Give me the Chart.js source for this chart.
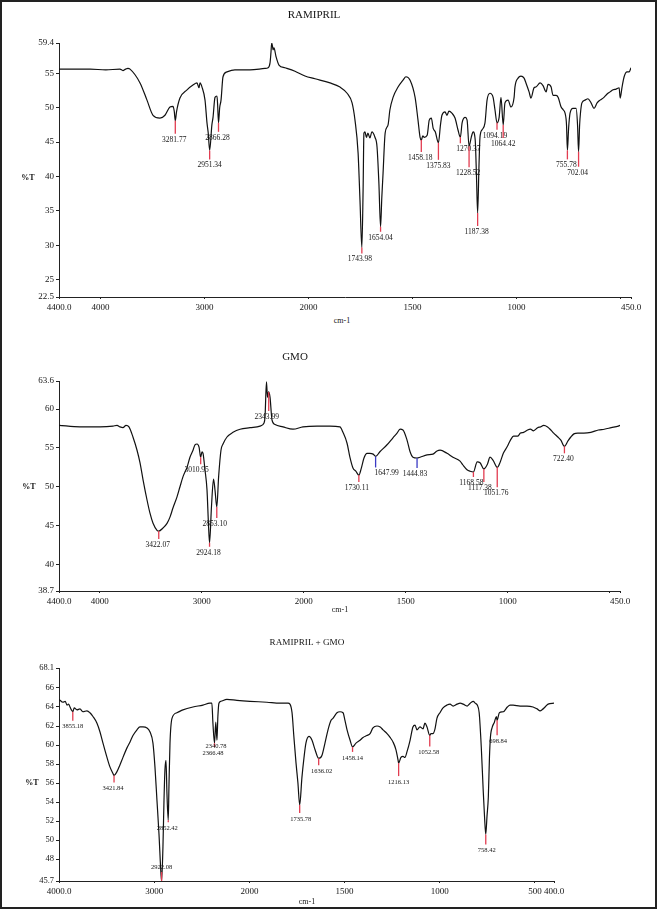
<!DOCTYPE html>
<html>
<head>
<meta charset="utf-8">
<title>FTIR - Ramipril / GMO</title>
<script src="https://cdn.jsdelivr.net/npm/chart.js@4.4.1/dist/chart.umd.min.js"></script>
<style>
  html, body { margin: 0; padding: 0; background: #fff; }
  #page { position: relative; width: 659px; height: 909px; overflow: hidden;
          font-family: "Liberation Serif", "DejaVu Serif", serif; color: #151515; }
  #cadre { position: absolute; left: 0; top: 0; width: 653px; height: 905px; border: 2px solid #222; }
  canvas { position: absolute; left: 0; }
  .txt { position: absolute; white-space: nowrap; line-height: 1; transform: translate(-50%, -50%); }
  .pt { font-weight: bold; font-size: 8px; }
</style>
</head>
<body>
<div id="page">
  <div id="cadre"></div>
  <canvas id="spectre-ramipril" width="659" height="315" style="top:0px"></canvas>
  <canvas id="spectre-gmo" width="659" height="280" style="top:330px"></canvas>
  <canvas id="spectre-melange" width="659" height="289" style="top:620px"></canvas>

  <div class="txt" style="left:314px; top:14px; font-size:11px">RAMIPRIL</div>
  <div class="txt pt" style="left:28px; top:178px">%T</div>
  <div class="txt" style="left:342px; top:321px; font-size:8px">cm-1</div>

  <div class="txt" style="left:295px; top:356px; font-size:11px">GMO</div>
  <div class="txt pt" style="left:29px; top:487px">%T</div>
  <div class="txt" style="left:340px; top:610px; font-size:8px">cm-1</div>

  <div class="txt" style="left:307px; top:643px; font-size:9.2px">RAMIPRIL + GMO</div>
  <div class="txt pt" style="left:32px; top:783px">%T</div>
  <div class="txt" style="left:307px; top:902px; font-size:8px">cm-1</div>
</div>

<script>
// Spectre RAMIPRIL (nombre d'onde cm-1 / %T)
const ramiprilWn = [4400, 4250, 4100, 3950, 3814, 3785, 3760, 3737, 3717, 3621, 3554, 3496, 3429, 3381, 3333, 3304, 3292, 3281.77, 3270, 3237,
  3169, 3112, 3073, 3054, 3044, 3025, 2996, 2977, 2965, 2951.34, 2930, 2919, 2900, 2881, 2875, 2866.28, 2855, 2842, 2823, 2785,
  2708, 2564, 2420, 2390, 2371, 2362, 2355, 2347, 2342, 2333, 2313, 2285, 2227, 2131, 2035, 1969, 1897, 1849, 1815, 1791,
  1777, 1762, 1753, 1743.98, 1738, 1734, 1729, 1722, 1715, 1705, 1696, 1681, 1671, 1662, 1654.04, 1648, 1642, 1632, 1618, 1609,
  1594, 1570, 1546, 1532, 1512, 1488, 1474, 1464, 1458.18, 1451, 1444, 1430, 1420, 1410, 1401, 1391, 1375.83, 1366, 1359, 1344,
  1335, 1325, 1311, 1296, 1282, 1270.37, 1262, 1247, 1238, 1228.52, 1218, 1209, 1199, 1193, 1187.38, 1181, 1176, 1166, 1152, 1142,
  1128, 1113, 1104, 1094.19, 1084, 1075, 1064.42, 1056, 1041, 1027, 1012, 1008, 993, 979, 964, 955, 940, 931, 916, 907,
  887, 873, 858, 849, 834, 825, 810, 800, 786, 776, 767, 760, 755.78, 750, 743, 729, 714, 707, 702.04, 697,
  693, 686, 671, 657, 642, 628, 613, 599, 580, 565, 551, 536, 522, 507, 502, 493, 483, 469, 459, 450];
const ramiprilT = [55.6, 55.6, 55.6, 55.5, 55.6, 55.4, 55.6, 55.7, 55.6, 53.6, 51.1, 48.9, 48.5, 48.9, 50.1, 50.2, 49.5, 48.1, 49.4, 51.4,
  52.6, 53.3, 53.6, 52.9, 53.6, 53.0, 51.1, 47.8, 46.3, 43.8, 47.5, 48.6, 51.5, 51.7, 50.5, 47.8, 50.0, 51.1, 54.5, 55.2,
  55.5, 55.5, 55.7, 55.8, 56.5, 58.0, 59.4, 58.9, 58.4, 58.7, 57.4, 56.2, 55.8, 55.3, 54.6, 54.2, 53.6, 53.0, 52.1, 50.7,
  48.2, 43.4, 36.6, 29.7, 38.0, 46.3, 46.5, 45.7, 46.3, 45.6, 46.5, 45.7, 44.3, 39.0, 32.7, 37.0, 40.5, 46.3, 47.5, 49.7,
  51.5, 53.0, 54.0, 54.5, 54.0, 51.5, 48.2, 45.7, 45.3, 45.9, 45.7, 46.0, 48.2, 48.5, 47.0, 46.5, 44.9, 47.5, 48.9, 49.4,
  48.9, 49.5, 49.2, 48.5, 46.8, 45.7, 47.8, 48.6, 48.2, 44.4, 45.7, 46.5, 45.3, 40.2, 34.7, 41.4, 45.7, 46.8, 47.8, 51.1,
  52.1, 51.5, 49.7, 47.8, 48.6, 51.5, 47.5, 50.7, 51.1, 50.1, 51.5, 53.0, 54.3, 54.6, 54.3, 53.6, 52.3, 51.4, 52.9, 53.0,
  53.6, 53.2, 52.3, 53.4, 53.0, 51.8, 51.8, 51.5, 50.1, 49.7, 49.2, 47.5, 43.8, 47.0, 49.2, 49.9, 49.9, 47.5, 43.6, 47.5,
  49.2, 50.7, 51.1, 51.3, 50.7, 49.9, 50.7, 51.1, 51.5, 52.0, 52.3, 52.6, 52.7, 52.9, 51.4, 53.0, 54.5, 55.2, 55.2, 55.8];
const ramiprilPics = [3281.77, 2951.34, 2866.28, 1743.98, 1654.04, 1458.18, 1375.83, 1270.37, 1228.52, 1187.38, 1094.19, 1064.42, 755.78, 702.04];

// Spectre GMO
const gmoWn = [4400, 4194, 3998, 3871, 3831, 3802, 3773, 3743, 3714, 3675, 3635, 3606, 3576, 3537, 3508, 3478, 3439, 3422.07, 3380, 3341,
  3312, 3282, 3243, 3214, 3184, 3145, 3116, 3086, 3067, 3047, 3027, 3010.95, 2998, 2988, 2969, 2949, 2935, 2924.18, 2905, 2885,
  2870, 2853.10, 2835, 2812, 2792, 2753, 2694, 2625, 2527, 2429, 2390, 2380, 2366, 2356, 2346, 2331, 2312, 2282, 2204, 2106,
  2008, 1935, 1872, 1823, 1808, 1788, 1774, 1759, 1745, 1730.11, 1718, 1705, 1690, 1676, 1660, 1647.99, 1627, 1592, 1563, 1543,
  1528, 1514, 1494, 1479, 1465, 1444.83, 1430, 1396, 1367, 1347, 1332, 1298, 1269, 1234, 1220, 1200, 1185, 1168.58, 1150, 1136,
  1117.38, 1100, 1087, 1072, 1051.76, 1037, 1022, 1002, 987, 972, 952, 938, 923, 903, 889, 874, 854, 840, 824, 805,
  789, 775, 755, 740, 722.40, 705, 691, 676, 657, 627, 593, 556, 527, 493, 458, 450];
const gmoT = [57.9, 57.7, 57.7, 57.8, 57.9, 57.7, 57.6, 57.9, 57.7, 56.4, 54.7, 53.1, 50.9, 48.3, 46.6, 45.3, 44.4, 44.3, 44.7, 45.3,
  46.1, 47.3, 48.7, 50.0, 51.3, 52.5, 53.8, 54.7, 55.4, 55.5, 55.1, 53.8, 54.5, 54.3, 52.2, 49.6, 45.3, 42.8, 47.5, 51.0,
  49.5, 47.4, 51.3, 54.7, 55.5, 56.4, 57.0, 57.4, 57.6, 57.8, 58.2, 59.0, 63.5, 61.5, 62.2, 61.5, 58.6, 58.0, 57.7, 57.4,
  57.7, 57.8, 57.8, 57.7, 57.0, 55.6, 53.8, 52.4, 52.0, 51.5, 52.4, 53.7, 54.3, 54.3, 54.2, 53.9, 54.5, 55.4, 56.3, 56.9,
  57.4, 57.3, 56.0, 54.5, 53.8, 53.7, 53.8, 54.1, 54.2, 54.6, 54.7, 54.3, 53.8, 53.3, 52.8, 52.2, 52.0, 51.9, 53.2, 53.1,
  52.3, 52.9, 53.8, 53.4, 52.5, 53.2, 54.3, 55.2, 56.0, 56.5, 56.5, 56.9, 57.0, 57.3, 57.4, 57.2, 57.6, 57.7, 57.9, 57.7,
  57.3, 56.9, 56.4, 56.0, 55.2, 55.9, 56.4, 56.8, 56.9, 56.9, 57.0, 57.3, 57.4, 57.6, 57.8, 57.9];
const gmoPics = [3422.07, 3010.95, 2924.18, 2853.10, 2343.99, 1730.11, 1647.99, 1444.83, 1168.58, 1117.38, 1051.76, 722.40];
const gmoPicsBleus = [1647.99, 1444.83];

// Spectre RAMIPRIL + GMO
const melangeWn = [4000, 3958, 3935, 3916, 3900, 3884, 3870, 3855.18, 3840, 3811, 3780, 3748, 3706, 3675, 3643, 3601, 3570, 3538, 3496, 3465,
  3433, 3421.84, 3391, 3360, 3328, 3286, 3255, 3223, 3181, 3150, 3118, 3076, 3045, 3013, 2992, 2971, 2950, 2929, 2922.08, 2908,
  2897, 2887, 2876, 2866, 2852.42, 2845, 2834, 2813, 2761, 2698, 2593, 2488, 2415, 2394, 2383, 2366.48, 2353, 2340.78, 2331, 2320,
  2299, 2236, 2131, 1997, 1908, 1839, 1797, 1787, 1776, 1766, 1755, 1745, 1735.78, 1724, 1713, 1703, 1687, 1671, 1655, 1636.02,
  1619, 1603, 1587, 1571, 1561, 1540, 1524, 1508, 1498, 1487, 1471, 1458.14, 1440, 1419, 1403, 1383, 1366, 1351, 1330, 1313,
  1298, 1277, 1261, 1245, 1230, 1219, 1216.13, 1204, 1193, 1183, 1172, 1156, 1141, 1130, 1120, 1104, 1088, 1078, 1067, 1052.58,
  1046, 1036, 1025, 1015, 999, 983, 962, 946, 930, 909, 893, 877, 856, 840, 824, 814, 803, 793, 782, 772,
  765, 758.42, 752, 745, 739, 734, 724, 713, 703, 698.84, 687, 666, 645, 631, 615, 578, 542, 510, 489, 473,
  463, 447, 431, 400];
const melangeT = [64.8, 64.5, 64.6, 64.2, 64.3, 64.0, 63.7, 63.5, 63.9, 63.7, 63.8, 63.5, 63.6, 63.4, 63.0, 62.3, 61.4, 60.2, 58.7, 57.7,
  57.0, 56.8, 57.2, 57.9, 58.7, 59.7, 60.3, 61.0, 61.6, 61.9, 61.9, 61.8, 61.4, 60.2, 57.7, 54.2, 50.7, 46.5, 45.7, 49.3,
  54.2, 57.4, 58.4, 54.9, 52.1, 55.6, 60.2, 62.8, 63.4, 63.7, 64.0, 64.2, 64.4, 64.4, 62.3, 60.2, 62.4, 60.5, 63.0, 64.4,
  64.6, 64.8, 64.7, 64.6, 64.5, 64.4, 64.4, 64.3, 63.4, 60.8, 58.1, 56.0, 53.7, 56.6, 58.7, 60.2, 60.9, 60.5, 59.5, 58.6,
  58.9, 60.2, 61.6, 62.6, 62.8, 63.4, 63.5, 63.4, 62.6, 61.6, 60.5, 59.8, 60.2, 60.5, 60.8, 61.0, 61.2, 61.8, 62.0, 61.9,
  61.6, 61.2, 60.8, 60.3, 59.5, 58.4, 58.1, 58.7, 58.8, 58.7, 59.3, 60.5, 61.9, 62.1, 61.6, 61.9, 61.7, 62.3, 61.9, 61.0,
  61.2, 61.2, 61.7, 62.8, 63.4, 63.9, 64.2, 64.3, 64.1, 64.3, 64.4, 64.3, 64.1, 64.4, 64.6, 64.4, 64.2, 63.4, 59.8, 55.3,
  52.5, 50.6, 52.5, 54.5, 58.7, 60.8, 61.9, 62.4, 63.0, 62.6, 63.4, 63.5, 64.0, 64.2, 64.2, 64.1, 64.1, 64.0, 63.8, 63.6,
  63.7, 64.0, 64.3, 64.4];
const melangePics = [3855.18, 3421.84, 2922.08, 2852.42, 2366.48, 2340.78, 1735.78, 1636.02, 1458.14, 1216.13, 1052.58, 758.42, 698.84];

// Graduations
const xTicks4400 = [4400, 4000, 3000, 2000, 1500, 1000, 500, 450];
const xLabels4400 = ['4400.0', '4000', '3000', '2000', '1500', '1000', '', '450.0'];
const xTicks4000 = [4000, 3000, 2000, 1500, 1000, 500, 400];
const xLabels4000 = ['4000.0', '3000', '2000', '1500', '1000', '500', '400.0'];
const yTicksRamipril = [22.5, 25, 30, 35, 40, 45, 50, 55, 59.4];
const yLabelsRamipril = ['22.5', '25', '30', '35', '40', '45', '50', '55', '59.4'];
const yTicksGmo = [36.6, 40, 45, 50, 55, 60, 63.6];
const yLabelsGmo = ['38.7', '40', '45', '50', '55', '60', '63.6'];
const yTicksMelange = [45.7, 48, 50, 52, 54, 56, 58, 60, 62, 64, 66, 68.1];
const yLabelsMelange = ['45.7', '48', '50', '52', '54', '56', '58', '60', '62', '64', '66', '68.1'];

// Décalages des étiquettes de pics : [longueur du trait, décalage horizontal] (px)
const decalRamipril = [[13, -1], [9, 0], [9, -1], [6, -2], [5, 0], [12, -1], [17, 0], [6, 8], [21, -1], [13, -1], [7, -2], [13, 0], [9, -1], [15, -1]];
const decalGmo = [[8, -1], [7, -4], [4, -1], [11, -2], [19, -2], [7, -2], [11, 11], [10, -2], [5, -2], [13, -4], [20, -1], [7, -1]];
const decalMelange = [[9, 0], [7, -1], [-9, 0], [2, -1], [4, -1.5], [0, -1], [8, 1], [7, 3], [5, 0], [13, 0], [11, -1], [10, 1], [15, 1]];

Chart.defaults.font.family = '"Liberation Serif", "DejaVu Serif", serif';
Chart.defaults.color = '#151515';

// Axe des nombres d'onde : échelle dilatée (x2) au-dessous de 2000 cm-1
class AxeFtir extends Chart.LinearScale {
    static id = 'ftir';
    static defaults = {};

    getPixelForValue(value) {
        const brk = this.options.breakAt, k = this.options.stretch;
        const haut = this.max - brk;
        const total = haut + (brk - this.min) * k;
        const u = value >= brk ? this.max - value : haut + (brk - value) * k;
        return this.left + this.width * u / total;
    }

    getValueForPixel(pixel) {
        const brk = this.options.breakAt, k = this.options.stretch;
        const haut = this.max - brk;
        const total = haut + (brk - this.min) * k;
        const u = (pixel - this.left) / this.width * total;
        return u <= haut ? this.max - u : brk - (u - haut) / k;
    }
}
Chart.register(AxeFtir);

// Traits rouges / bleus et valeurs des pics
function pluginPics(pics, decal, bleus, taille) {
    return {
        id: 'pics',
        afterDatasetsDraw(chart) {
            const ctx = chart.ctx;
            const xs = chart.scales.x, ys = chart.scales.y;
            const pts = chart.data.datasets[0].data;
            ctx.save();
            ctx.font = taille + 'px "Liberation Serif", serif';
            ctx.textAlign = 'center';
            ctx.textBaseline = 'middle';
            pics.forEach((wn, i) => {
                const [len, dx] = decal[i];
                let proche = pts[0];
                pts.forEach(p => {
                    if (Math.abs(p.x - wn) < Math.abs(proche.x - wn)) proche = p;
                });
                const px = xs.getPixelForValue(wn);
                const py = ys.getPixelForValue(proche.y);
                if (len !== 0) {
                    ctx.strokeStyle = bleus.includes(wn) ? '#3a3ac4' : '#e23c50';
                    ctx.lineWidth = 1.3;
                    ctx.beginPath();
                    ctx.moveTo(px, py);
                    ctx.lineTo(px, py + len);
                    ctx.stroke();
                }
                ctx.fillStyle = '#151515';
                const ty = len >= 0 ? py + len + 6 : py + len - 5;
                ctx.fillText(wn.toFixed(2), px + dx, ty);
            });
            ctx.restore();
        }
    };
}

function tracerSpectre(id, c) {
    return new Chart(document.getElementById(id), {
        type: 'line',
        data: {
            datasets: [{
                data: c.wn.map((w, i) => ({ x: w, y: c.t[i] })),
                borderColor: '#111',
                borderWidth: 1.2,
                pointRadius: 0,
                cubicInterpolationMode: 'monotone'
            }]
        },
        options: {
            responsive: false,
            animation: false,
            devicePixelRatio: 1,
            events: [],
            layout: { padding: { left: 0, top: c.haut, right: c.droite, bottom: 0 } },
            plugins: { legend: { display: false }, tooltip: { enabled: false } },
            scales: {
                x: {
                    type: 'ftir',
                    min: c.xMin,
                    max: c.xMax,
                    breakAt: 2000,
                    stretch: 2,
                    afterBuildTicks: s => { s.ticks = c.xTicks.map(v => ({ value: v })); },
                    afterFit: s => { s.height = c.hauteurX; s.paddingLeft = 0; s.paddingRight = 0; },
                    ticks: {
                        autoSkip: false, maxRotation: 0, padding: 3,
                        font: { size: 9 },
                        callback: (v, i) => c.xLabels[i]
                    },
                    grid: { drawOnChartArea: false, tickLength: 2, color: '#222' },
                    border: { color: '#222', width: 1 }
                },
                y: {
                    min: c.yTicks[0],
                    max: c.yTicks[c.yTicks.length - 1],
                    afterBuildTicks: s => { s.ticks = c.yTicks.map(v => ({ value: v })); },
                    afterFit: s => { s.width = 59; s.paddingTop = 0; s.paddingBottom = 0; },
                    ticks: {
                        autoSkip: false, padding: 2,
                        font: { size: c.tailleY },
                        callback: (v, i) => c.yLabels[i]
                    },
                    grid: { drawOnChartArea: false, tickLength: 3, color: '#222' },
                    border: { color: '#222', width: 1 }
                }
            }
        },
        plugins: [pluginPics(c.pics, c.decal, c.bleus || [], c.taillePics)]
    });
}

tracerSpectre('spectre-ramipril', {
    wn: ramiprilWn, t: ramiprilT, pics: ramiprilPics, decal: decalRamipril, taillePics: 7.5,
    xMin: 450, xMax: 4400, xTicks: xTicks4400, xLabels: xLabels4400,
    yTicks: yTicksRamipril, yLabels: yLabelsRamipril, tailleY: 9,
    haut: 43, droite: 28, hauteurX: 18
});

tracerSpectre('spectre-gmo', {
    wn: gmoWn, t: gmoT, pics: gmoPics, decal: decalGmo, bleus: gmoPicsBleus, taillePics: 7.5,
    xMin: 450, xMax: 4400, xTicks: xTicks4400, xLabels: xLabels4400,
    yTicks: yTicksGmo, yLabels: yLabelsGmo, tailleY: 9,
    haut: 51, droite: 39, hauteurX: 19
});

tracerSpectre('spectre-melange', {
    wn: melangeWn, t: melangeT, pics: melangePics, decal: decalMelange, taillePics: 6.5,
    xMin: 400, xMax: 4000, xTicks: xTicks4000, xLabels: xLabels4000,
    yTicks: yTicksMelange, yLabels: yLabelsMelange, tailleY: 8.5,
    haut: 48, droite: 105, hauteurX: 28
});
</script>
</body>
</html>
